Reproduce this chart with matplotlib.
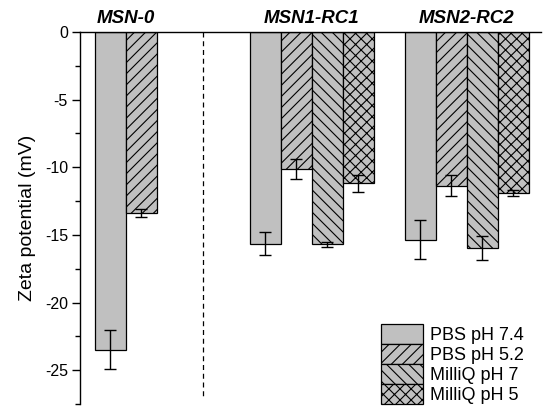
import matplotlib
matplotlib.use("Agg")
import matplotlib.pyplot as plt
import matplotlib.transforms as mtransforms

plt.rcParams['font.family'] = ['Liberation Sans', 'DejaVu Sans']
plt.rcParams['hatch.linewidth'] = 0.8
plt.rcParams['axes.unicode_minus'] = False

groups = ["MSN-0", "MSN1-RC1", "MSN2-RC2"]
series = ["PBS pH 7.4", "PBS pH 5.2", "MilliQ pH 7", "MilliQ pH 5"]
hatches = ["", "///", "\\\\\\", "xxx"]

# zeta potential (mV) per series, one value per group (None = not measured)
pbs74 = [-23.5, -15.65, -15.35]
pbs52 = [-13.4, -10.15, -11.35]
milliq7 = [None, -15.7, -15.95]
milliq5 = [None, -11.2, -11.9]

pbs74_err = [1.45, 0.85, 1.45]
pbs52_err = [0.3, 0.75, 0.8]
milliq7_err = [None, 0.2, 0.9]
milliq5_err = [None, 0.6, 0.25]

values = [pbs74, pbs52, milliq7, milliq5]
errors = [pbs74_err, pbs52_err, milliq7_err, milliq5_err]

fig = plt.figure(figsize=(5.5, 4.16), dpi=100)
ax = fig.add_axes([0.145, 0.029, 0.839, 0.894])

for i, (name, vals, errs, h) in enumerate(zip(series, values, errors, hatches)):
    xs = [5 * g + i + 0.5 for g, v in enumerate(vals) if v is not None]
    ys = [v for v in vals if v is not None]
    es = [e for e in errs if e is not None]
    ax.bar(xs, ys, width=1.0, color="#c0c0c0", edgecolor="black",
           linewidth=0.9, hatch=h, label=name, zorder=2)
    ax.errorbar(xs, ys, yerr=es, fmt="none", ecolor="black",
                elinewidth=1, capsize=4, capthick=1, zorder=3)

ax.plot([3.5, 3.5], [0, -27], ls="--", color="black", lw=0.9,
        dashes=(4, 3), zorder=1)

trans = mtransforms.blended_transform_factory(ax.transData, fig.transFigure)
label_x = [1.0, 7.0, 12.0]
for gx, name in zip(label_x, groups):
    ax.text(gx, 0.955, name, transform=trans, ha="center", va="center",
            fontsize=13.5, fontweight="bold", fontstyle="italic")

ax.set_xlim(-0.48, 14.4)
ax.set_ylim(-27.5, 0)
ax.set_yticks([0, -5, -10, -15, -20, -25])
ax.set_yticks([-2.5, -7.5, -12.5, -17.5, -22.5, -27.5], minor=True)
ax.set_xticks([])
ax.tick_params(axis="y", which="major", length=5.5, width=1, labelsize=11.5,
               pad=3)
ax.tick_params(axis="y", which="minor", length=3.6, width=1)
ax.spines["right"].set_visible(False)
ax.spines["bottom"].set_visible(False)
ax.spines["top"].set_linewidth(1)
ax.spines["left"].set_linewidth(1)
ax.set_ylabel("Zeta potential (mV)", fontsize=14, labelpad=6)

ax.legend(loc="lower left", bbox_to_anchor=(0.693, 0.029),
          bbox_transform=fig.transFigure, frameon=False, fontsize=13,
          handlelength=2.33, handleheight=1.3, labelspacing=0,
          handletextpad=0.35, borderpad=0, borderaxespad=0)

fig.savefig("out.png", dpi=100)
